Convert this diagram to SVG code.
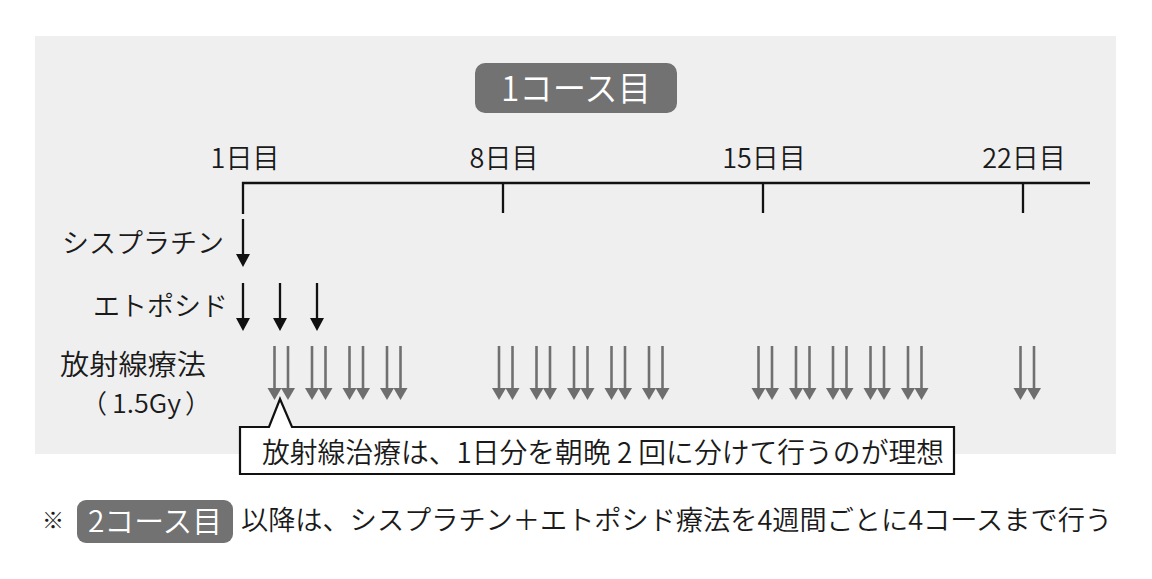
<svg xmlns="http://www.w3.org/2000/svg" width="1152" height="579" viewBox="0 0 1152 579">
<style>
  .t { font-family: "Noto Sans CJK JP", "Noto Sans", sans-serif; fill: #1a1a1a; font-weight: 350; }
  .w { font-family: "Noto Sans CJK JP", "Noto Sans", sans-serif; fill: #ffffff; font-weight: 350; }
  .badge { fill: #727272; }
  .blk { stroke: #111111; stroke-width: 2.3; fill: none; }
  .rad { stroke: #707070; stroke-width: 2.6; fill: none; }
</style>
<defs>
  <marker id="hb" markerUnits="userSpaceOnUse" markerWidth="13" markerHeight="14" viewBox="0 0 13 14" refX="1" refY="7" orient="auto" overflow="visible">
    <path d="M0,0 L13,7 L0,14 Z" fill="#111111"/>
  </marker>
  <marker id="hg" markerUnits="userSpaceOnUse" markerWidth="12" markerHeight="14" viewBox="0 0 12 14" refX="1" refY="7" orient="auto" overflow="visible">
    <path d="M0,0 L12,7 L0,14 Z" fill="#6e6e6e"/>
  </marker>
</defs>
<rect x="0" y="0" width="1152" height="579" fill="#ffffff"/>
<g id="panel">
  <rect x="35" y="36" width="1081" height="418" fill="#efefef"/>
</g>
<g id="title">
  <rect class="badge" x="475" y="63" width="202" height="50" rx="10"/>
  <text class="w" x="576" y="101" font-size="34" text-anchor="middle" textLength="150" lengthAdjust="spacingAndGlyphs">1コース目</text>
</g>
<g id="day-labels">
  <text class="t" x="245" y="168" font-size="27" text-anchor="middle">1日目</text>
  <text class="t" x="504" y="168" font-size="27" text-anchor="middle">8日目</text>
  <text class="t" x="764" y="168" font-size="27" text-anchor="middle">15日目</text>
  <text class="t" x="1024" y="168" font-size="27" text-anchor="middle">22日目</text>
</g>
<g id="drug-labels">
  <text class="t" x="224" y="253" font-size="27" text-anchor="end">シスプラチン</text>
  <text class="t" x="228" y="316" font-size="27" text-anchor="end">エトポシド</text>
  <text class="t" x="60" y="375" font-size="28" textLength="146" lengthAdjust="spacingAndGlyphs">放射線療法</text>
  <text class="t" y="413" font-size="26"><tspan x="81">（</tspan><tspan x="112" textLength="69" lengthAdjust="spacingAndGlyphs">1.5Gy</tspan><tspan x="185">）</tspan></text>
</g>
<g id="connectors">
  <g id="timeline" class="blk">
    <path d="M243,214 V183 H1090"/>
    <path d="M503,183 V213 M763,183 V213 M1023,183 V213"/>
  </g>
  <g id="cisplatin-arrows" class="blk">
    <line x1="243" y1="219" x2="243" y2="255" marker-end="url(#hb)"/>
  </g>
  <g id="etoposide-arrows" class="blk">
    <line x1="243" y1="283" x2="243" y2="319" marker-end="url(#hb)"/>
    <line x1="280" y1="283" x2="280" y2="319" marker-end="url(#hb)"/>
    <line x1="317" y1="283" x2="317" y2="319" marker-end="url(#hb)"/>
  </g>
  <g id="radiation-arrows" class="rad">
    <line x1="274.5" y1="346" x2="274.5" y2="389" marker-end="url(#hg)"/>
    <line x1="288" y1="346" x2="288" y2="389" marker-end="url(#hg)"/>
    <line x1="312" y1="346" x2="312" y2="389" marker-end="url(#hg)"/>
    <line x1="325.5" y1="346" x2="325.5" y2="389" marker-end="url(#hg)"/>
    <line x1="349.5" y1="346" x2="349.5" y2="389" marker-end="url(#hg)"/>
    <line x1="363" y1="346" x2="363" y2="389" marker-end="url(#hg)"/>
    <line x1="387" y1="346" x2="387" y2="389" marker-end="url(#hg)"/>
    <line x1="400.5" y1="346" x2="400.5" y2="389" marker-end="url(#hg)"/>

    <line x1="499" y1="346" x2="499" y2="389" marker-end="url(#hg)"/>
    <line x1="512.5" y1="346" x2="512.5" y2="389" marker-end="url(#hg)"/>
    <line x1="536.5" y1="346" x2="536.5" y2="389" marker-end="url(#hg)"/>
    <line x1="550" y1="346" x2="550" y2="389" marker-end="url(#hg)"/>
    <line x1="574" y1="346" x2="574" y2="389" marker-end="url(#hg)"/>
    <line x1="587.5" y1="346" x2="587.5" y2="389" marker-end="url(#hg)"/>
    <line x1="611.5" y1="346" x2="611.5" y2="389" marker-end="url(#hg)"/>
    <line x1="625" y1="346" x2="625" y2="389" marker-end="url(#hg)"/>
    <line x1="649" y1="346" x2="649" y2="389" marker-end="url(#hg)"/>
    <line x1="662.5" y1="346" x2="662.5" y2="389" marker-end="url(#hg)"/>

    <line x1="758.5" y1="346" x2="758.5" y2="389" marker-end="url(#hg)"/>
    <line x1="772" y1="346" x2="772" y2="389" marker-end="url(#hg)"/>
    <line x1="796" y1="346" x2="796" y2="389" marker-end="url(#hg)"/>
    <line x1="809.5" y1="346" x2="809.5" y2="389" marker-end="url(#hg)"/>
    <line x1="833" y1="346" x2="833" y2="389" marker-end="url(#hg)"/>
    <line x1="846.5" y1="346" x2="846.5" y2="389" marker-end="url(#hg)"/>
    <line x1="870.5" y1="346" x2="870.5" y2="389" marker-end="url(#hg)"/>
    <line x1="884" y1="346" x2="884" y2="389" marker-end="url(#hg)"/>
    <line x1="908" y1="346" x2="908" y2="389" marker-end="url(#hg)"/>
    <line x1="921.5" y1="346" x2="921.5" y2="389" marker-end="url(#hg)"/>

    <line x1="1020.5" y1="346" x2="1020.5" y2="389" marker-end="url(#hg)"/>
    <line x1="1034" y1="346" x2="1034" y2="389" marker-end="url(#hg)"/>
  </g>
</g>
<g id="callout">
  <path d="M240,427 H269 L280,399 L292,427 H954 V474 H240 Z" fill="#ffffff" stroke="#111111" stroke-width="2.2" stroke-linejoin="miter"/>
  <text class="t" x="262" y="463" font-size="28" textLength="682" lengthAdjust="spacingAndGlyphs">放射線治療は、1日分を朝晩 2 回に分けて行うのが理想</text>
</g>
<g id="footer">
  <text class="t" x="42" y="528" font-size="22">※</text>
  <rect class="badge" x="77" y="500" width="156" height="43" rx="9"/>
  <text class="w" x="155" y="532" font-size="30" text-anchor="middle" textLength="134" lengthAdjust="spacingAndGlyphs">2コース目</text>
  <text class="t" x="241" y="530" font-size="27" textLength="871" lengthAdjust="spacingAndGlyphs">以降は、シスプラチン＋エトポシド療法を4週間ごとに4コースまで行う</text>
</g>
</svg>
